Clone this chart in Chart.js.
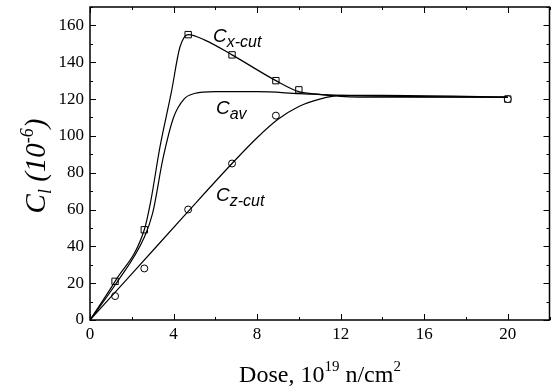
<!DOCTYPE html>
<html>
<head>
<meta charset="utf-8">
<script src="https://cdn.jsdelivr.net/npm/chart.js@4"></script>
<style>
  html, body { margin: 0; padding: 0; background: #fff; }
  #wrap { width: 555px; height: 387px; }
</style>
</head>
<body>
<div id="wrap"><canvas id="c"></canvas></div>
<script>
// measured points
const xcutDose = [1.2, 2.6, 4.7, 6.8, 8.9, 10, 20];
const xcutVal = [21, 49, 155, 144, 130, 125, 120];
const zcutDose = [1.2, 2.6, 4.7, 6.8, 8.9, 20];
const zcutVal = [13, 28, 60, 85, 111, 120];

// fitted curves
const xcutFitDose = [0, 1.2, 2.6, 2.9, 3.35, 3.9, 4.3, 4.7, 5.5, 6.8, 8.9, 10, 11, 12, 14, 20];
const xcutFitVal = [0, 21, 49, 64, 94, 124, 148, 155, 152, 144, 130, 124, 122.5, 121.5, 121, 121];
const avFitDose = [0, 1.2, 2.6, 3.0, 3.5, 4.0, 4.5, 5, 6, 8, 10, 12, 20];
const avFitVal = [0, 19, 45, 58, 88, 110, 120, 123, 124, 124, 123, 122, 121];
const zcutFitDose = [0, 2, 4.7, 6.8, 8, 9, 10, 11, 12, 14, 20];
const zcutFitVal = [0, 25, 59, 85, 99, 109, 116, 120, 122, 122, 121];

const xTicks = [0, 4, 8, 12, 16, 20];
const yTicks = [0, 20, 40, 60, 80, 100, 120, 140, 160];

function pts(xs, ys) { return xs.map((x, i) => ({ x: x, y: ys[i] })); }

const fitStyle = { type: 'line', showLine: true, borderColor: '#000', borderWidth: 1.2,
  pointRadius: 0, cubicInterpolationMode: 'monotone', fill: false };
const markStyle = { type: 'scatter', showLine: false, borderColor: '#000', borderWidth: 1,
  backgroundColor: '#fff' };

const frame = {
  id: 'frame',
  afterDraw(chart) {
    const ctx = chart.ctx, a = chart.chartArea;
    const xs = chart.scales.x, ys = chart.scales.y;
    ctx.save();
    ctx.strokeStyle = '#000';
    ctx.lineWidth = 1.5;
    ctx.strokeRect(a.left, a.top, a.right - a.left, a.bottom - a.top);
    ctx.lineWidth = 1;
    ctx.beginPath();
    for (let v = 0; v <= 22; v += 2) {
      const p = Math.round(xs.getPixelForValue(v)) + 0.5;
      const len = v % 4 === 0 ? 6 : 3;
      ctx.moveTo(p, a.bottom); ctx.lineTo(p, a.bottom - len);
      ctx.moveTo(p, a.top); ctx.lineTo(p, a.top + len);
    }
    for (let v = 0; v <= 170; v += 10) {
      const p = Math.round(ys.getPixelForValue(v)) + 0.5;
      const len = v % 20 === 0 ? 6 : 3;
      ctx.moveTo(a.left, p); ctx.lineTo(a.left + len, p);
      ctx.moveTo(a.right, p); ctx.lineTo(a.right - len, p);
    }
    ctx.stroke();

    // curve labels
    ctx.fillStyle = '#000';
    ctx.textBaseline = 'alphabetic';
    function lab(x, y, sub) {
      ctx.font = 'italic 19px "Liberation Sans"';
      ctx.fillText('C', x, y);
      const w = ctx.measureText('C').width;
      ctx.font = 'italic 16px "Liberation Sans"';
      ctx.fillText(sub, x + w, y + 5);
    }
    lab(213, 42, 'x-cut');
    lab(216, 114, 'av');
    lab(216, 201, 'z-cut');

    // x title
    const parts = [['Dose, 10', 24, 0], ['19', 15, -11], [' n/cm', 24, 0], ['2', 15, -11]];
    let total = 0;
    parts.forEach(p => { ctx.font = p[1] + 'px "Liberation Serif"'; total += ctx.measureText(p[0]).width; });
    let x = 320 - total / 2;
    parts.forEach(p => {
      ctx.font = p[1] + 'px "Liberation Serif"';
      ctx.fillText(p[0], x, 382 + p[2]);
      x += ctx.measureText(p[0]).width;
    });

    // y title
    ctx.translate(45, 166);
    ctx.rotate(-Math.PI / 2);
    const yparts = [['C', 'italic 29px', 0], ['l', 'italic 18px', 6], [' (10', 'italic 29px', 0], ['-6', 'italic 18px', -12], [')', 'italic 29px', 0]];
    total = 0;
    yparts.forEach(p => { ctx.font = p[1] + ' "Liberation Serif"'; total += ctx.measureText(p[0]).width; });
    x = -total / 2;
    yparts.forEach(p => {
      ctx.font = p[1] + ' "Liberation Serif"';
      ctx.fillText(p[0], x, p[2]);
      x += ctx.measureText(p[0]).width;
    });
    ctx.restore();
  }
};

new Chart(document.getElementById('c'), {
  data: {
    datasets: [
      Object.assign({ data: pts(xcutFitDose, xcutFitVal) }, fitStyle),
      Object.assign({ data: pts(avFitDose, avFitVal) }, fitStyle),
      Object.assign({ data: pts(zcutFitDose, zcutFitVal) }, fitStyle),
      Object.assign({ data: pts(zcutDose, zcutVal), pointStyle: 'circle', pointRadius: 3.5 }, markStyle),
      Object.assign({ data: pts(xcutDose, xcutVal), pointStyle: 'rect', pointRadius: 4.5 }, markStyle)
    ]
  },
  options: {
    responsive: true,
    maintainAspectRatio: false,
    animation: false,
    layout: { padding: { top: 7, right: 4, left: 0, bottom: 0 } },
    plugins: { legend: { display: false }, tooltip: { enabled: false } },
    scales: {
      x: {
        type: 'linear', min: 0, max: 22,
        afterBuildTicks: s => { s.ticks = xTicks.map(v => ({ value: v })); },
        afterFit: s => { s.height = 67; s.paddingLeft = 0; s.paddingRight = 0; },
        grid: { display: false, drawTicks: false },
        border: { display: false },
        ticks: { color: '#000', padding: 4, maxRotation: 0, font: { family: 'Liberation Serif', size: 17 } }
      },
      y: {
        type: 'linear', min: 0, max: 170,
        afterBuildTicks: s => { s.ticks = yTicks.map(v => ({ value: v })); },
        afterFit: s => { s.width = 90; s.paddingTop = 0; s.paddingBottom = 0; },
        grid: { display: false, drawTicks: false },
        border: { display: false },
        ticks: { color: '#000', padding: 6, font: { family: 'Liberation Serif', size: 17 } }
      }
    }
  },
  plugins: [frame]
});
</script>
</body>
</html>
